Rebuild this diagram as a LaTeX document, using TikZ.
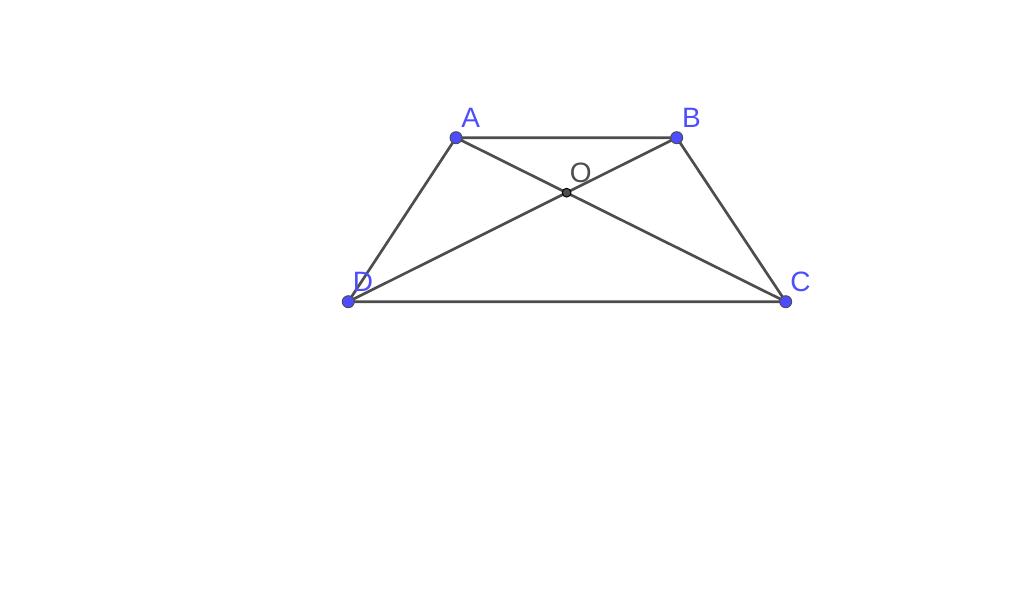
\documentclass[tikz,border=0pt]{standalone}
\usepackage{fontspec}
\setmainfont{Liberation Sans}
\definecolor{ptblue}{RGB}{77,77,255}
\definecolor{seggray}{RGB}{77,77,77}
\begin{document}
\begin{tikzpicture}[x=0.75pt, y=0.75pt, line join=round, line cap=round, font=\fontsize{21}{24}\selectfont]
			\useasboundingbox (0,0) rectangle (1024,605);
			\coordinate (A) at (456,467.3);
			\coordinate (B) at (676.7,467.3);
			\coordinate (C) at (785.7,303.3);
			\coordinate (D) at (348.3,303.3);
			\coordinate (O) at (intersection of A--C and B--D);
			\draw[seggray, line width=2pt] (D)--(A)--(B)--(C)--cycle
			(A)--(C) (B)--(D);
			\foreach \d in {A,B,C,D}
			\draw[black!70, line width=0.7pt, fill=ptblue](\d) circle (4.5pt)+(54:25)node[ptblue]{\d};
			\draw[black, line width=0.7pt, fill=seggray](O) circle (3.3pt)+(54:24)node[seggray]{O};
			\end{tikzpicture}
\end{document}
